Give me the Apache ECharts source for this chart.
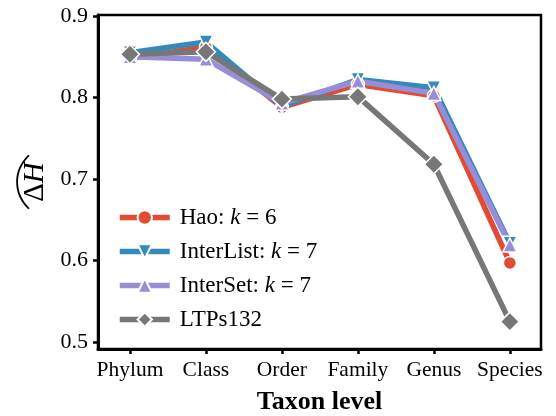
<!DOCTYPE html>
<html>
<head>
<meta charset="utf-8">
<script src="https://cdn.jsdelivr.net/npm/echarts@6/dist/echarts.min.js"></script>
<style>
	html, body { margin: 0; padding: 0; background: #fff; }
	#chart { width: 556px; height: 416px; }
</style>
</head>
<body>
<div id="chart"></div>
<script>
var categories = ['Phylum', 'Class', 'Order', 'Family', 'Genus', 'Species'];
var haoValues = [0.848, 0.862, 0.788, 0.816, 0.802, 0.597];
var interListValues = [0.855, 0.868, 0.789, 0.822, 0.812, 0.621];
var interSetValues = [0.850, 0.847, 0.793, 0.820, 0.805, 0.619];
var ltpsValues = [0.853, 0.856, 0.798, 0.801, 0.718, 0.525];
var yTicks = [0.5, 0.6, 0.7, 0.8, 0.9];
var xTicks = [0, 1, 2, 3, 4, 5];

var seriesNames = ['Hao', 'InterList', 'InterSet', 'LTPs132'];
var seriesK = ['6', '7', '7', ''];

var serif = '"Liberation Serif", "Times New Roman", serif';

// 把数组转成 [x, y] 点
function toPoints(arr) {
	var res = [];
	for (var i = 0; i < arr.length; i++) {
		res.push([i, arr[i]]);
	}
	return res;
}

function makeSeries(name, data, color, symbol, size, rotate) {
	return {
		name: name,
		type: 'line',
		data: toPoints(data),
		symbol: symbol,
		symbolSize: size,
		symbolRotate: rotate || 0,
		showAllSymbol: true,
		lineStyle: { color: color, width: 5.5 },
		itemStyle: { color: color, borderColor: '#fff', borderWidth: 1.5 },
		emphasis: { disabled: true },
		z: 2
	};
}

var chart = echarts.init(document.getElementById('chart'));
var option = {
	backgroundColor: '#fff',
	animation: false,
	grid: {
		left: 98, right: 15, top: 15, bottom: 67,
		outerBoundsMode: 'none',
		containLabel: false,
		show: true, borderColor: '#000', borderWidth: 2.5
	},
	xAxis: {
		type: 'value',
		min: -0.42,
		max: 5.41,
		name: 'Taxon level',
		nameLocation: 'middle',
		nameGap: 40,
		nameTextStyle: { fontFamily: serif, fontSize: 26, fontWeight: 'bold', color: '#000' },
		axisLine: { show: true, onZero: false, lineStyle: { color: '#000', width: 3 } },
		axisTick: { show: true, length: 5, lineStyle: { color: '#000', width: 2.5 }, customValues: xTicks },
		axisLabel: {
			customValues: xTicks,
			margin: 10,
			fontFamily: serif, fontSize: 21.5, color: '#000',
			formatter: function (v) { return categories[Math.round(v)]; }
		},
		splitLine: { show: false }
	},
	yAxis: {
		type: 'value',
		min: 0.4914,
		max: 0.9012,
		name: '{t|︵}\n{d|Δ}{h|H}',
		nameLocation: 'middle',
		nameRotate: 90,
		nameGap: 42,
		nameTextStyle: {
			fontFamily: serif, fontSize: 29, color: '#000', align: 'center',
			rich: {
				t: { fontFamily: '"Noto Sans CJK SC"', fontSize: 58, fontWeight: 'lighter', lineHeight: 37, color: '#000', align: 'center' },
				d: { fontFamily: serif, fontSize: 29, lineHeight: 28, color: '#000' },
				h: { fontFamily: serif, fontSize: 29, lineHeight: 28, fontStyle: 'italic', color: '#000' }
			}
		},
		axisLine: { show: true, onZero: false, lineStyle: { color: '#000', width: 3 } },
		axisTick: { show: true, length: 5, lineStyle: { color: '#000', width: 2.5 }, customValues: yTicks },
		axisLabel: {
			customValues: yTicks,
			margin: 10,
			fontFamily: serif, fontSize: 22, color: '#000',
			formatter: function (v) { return v.toFixed(1); }
		},
		splitLine: { show: false }
	},
	legend: {
		orient: 'vertical',
		left: 117,
		top: 206,
		padding: 0,
		itemWidth: 50,
		itemHeight: 18,
		itemGap: 11,
		data: seriesNames,
		lineStyle: { width: 5.5 },
		formatter: function (name) {
			var idx = seriesNames.indexOf(name);
			if (!seriesK[idx]) {
				return '{f|' + name + '}';
			}
			return '{f|' + name + ': }{k|k}{a| = ' + seriesK[idx] + '}';
		},
		textStyle: {
			fontFamily: serif, fontSize: 23, color: '#000',
			rich: {
				f: { fontFamily: serif, fontSize: 23, color: '#000', padding: [0, 0, 0, 5] },
				a: { fontFamily: serif, fontSize: 23, color: '#000' },
				k: { fontFamily: serif, fontSize: 23, fontStyle: 'italic', color: '#000' }
			}
		}
	},
	series: [
		makeSeries('Hao', haoValues, '#E24A33', 'circle', 13),
		makeSeries('InterList', interListValues, '#348ABD', 'triangle', 14, 180),
		makeSeries('InterSet', interSetValues, '#988ED5', 'triangle', 14),
		makeSeries('LTPs132', ltpsValues, '#777777', 'diamond', 19)
	]
};
chart.setOption(option);
</script>
</body>
</html>
